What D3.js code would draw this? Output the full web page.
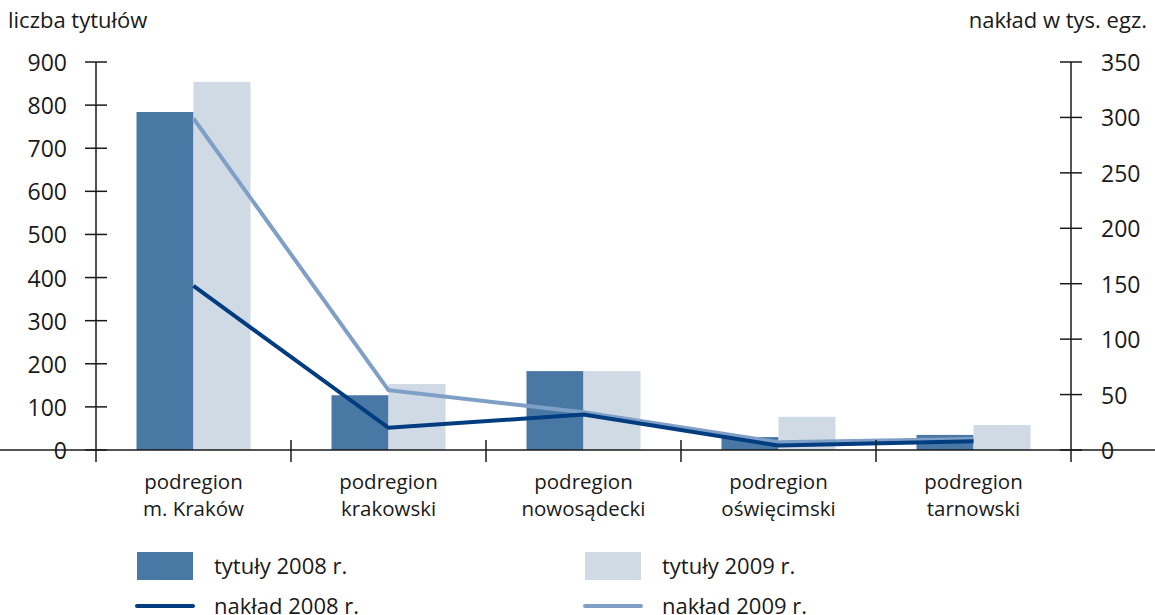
<!DOCTYPE html>
<html><head><meta charset="utf-8">
<script src="https://cdn.jsdelivr.net/npm/d3@7"></script>
<style>body{margin:0;background:#fff}svg{display:block}text{font-family:"Open Sans",sans-serif;fill:#1a1a1a}</style>
</head><body>
<svg id="c" width="1155" height="615"></svg>
<script>
const categories = ["podregion\nm. Kraków","podregion\nkrakowski","podregion\nnowosądecki","podregion\noświęcimski","podregion\ntarnowski"];
const titles2008 = [784,127,183,30,35];
const titles2009 = [854,153,183,77,58];
const print2008 = [148,20,32,4,8];
const print2009 = [299,54,34,7,10];
const leftTicks = [0,100,200,300,400,500,600,700,800,900];
const rightTicks = [0,50,100,150,200,250,300,350];

const svg = d3.select("#c");
const x0=96, x1=1071, yTop=62, yBot=450;
const x = d3.scaleBand().domain(categories).range([x0,x1]).paddingInner(0).paddingOuter(0);
const yL = d3.scaleLinear().domain([0,900]).range([yBot,yTop]);
const yR = d3.scaleLinear().domain([0,350]).range([yBot,yTop]);
const barW = 57;
const C = {d:"#4a78a5", l:"#cfdae5", dl:"#003d80", ll:"#7f9fc6"};

const g = svg.append("g");
categories.forEach((c,i)=>{
  const cx = x(c)+x.bandwidth()/2;
  g.append("rect").attr("x",cx-barW).attr("y",yL(titles2008[i])).attr("width",barW).attr("height",yBot-yL(titles2008[i])).attr("fill",C.d);
  g.append("rect").attr("x",cx).attr("y",yL(titles2009[i])).attr("width",barW).attr("height",yBot-yL(titles2009[i])).attr("fill",C.l);
});
const line = (arr)=>d3.line().x((d,i)=>x(categories[i])+x.bandwidth()/2).y(d=>yR(d))(arr);
g.append("path").attr("d",line(print2009)).attr("fill","none").attr("stroke",C.ll).attr("stroke-width",4);
g.append("path").attr("d",line(print2008)).attr("fill","none").attr("stroke",C.dl).attr("stroke-width",4);

// axes
const ax = svg.append("g").attr("stroke","#1a1a1a").attr("stroke-width",1.5);
ax.append("line").attr("x1",x0).attr("x2",x0).attr("y1",yTop).attr("y2",yBot+12);
ax.append("line").attr("x1",x1).attr("x2",x1).attr("y1",yTop).attr("y2",yBot+12);
ax.append("line").attr("x1",0).attr("x2",1155).attr("y1",yBot).attr("y2",yBot);
leftTicks.forEach(t=>{
  ax.append("line").attr("x1",x0-11).attr("x2",x0+11).attr("y1",yL(t)).attr("y2",yL(t));
  svg.append("text").attr("x",67).attr("y",yL(t)+9).attr("text-anchor","end").attr("font-size",23).text(t);
});
rightTicks.forEach(t=>{
  ax.append("line").attr("x1",x1-11).attr("x2",x1+11).attr("y1",yR(t)).attr("y2",yR(t));
  svg.append("text").attr("x",1101).attr("y",yR(t)+9).attr("text-anchor","start").attr("font-size",23).text(t);
});
categories.forEach((c,i)=>{
  if(i>0) ax.append("line").attr("x1",x(c)).attr("x2",x(c)).attr("y1",yBot-10).attr("y2",yBot+12);
  const cx = x(c)+x.bandwidth()/2;
  const parts=c.split("\n");
  parts.forEach((p,j)=>svg.append("text").attr("x",cx).attr("y",489+j*27).attr("text-anchor","middle").attr("font-size",20.5).text(p));
});
svg.append("text").attr("x",8).attr("y",28).attr("font-size",22).text("liczba tytułów");
svg.append("text").attr("x",1147).attr("y",28).attr("text-anchor","end").attr("font-size",22).text("nakład w tys. egz.");

// legend
const leg=[
 {t:"tytuły 2008 r.",type:"rect",c:C.d,x:137,y:566},
 {t:"tytuły 2009 r.",type:"rect",c:C.l,x:585,y:566},
 {t:"nakład 2008 r.",type:"line",c:C.dl,x:137,y:606},
 {t:"nakład 2009 r.",type:"line",c:C.ll,x:585,y:606}];
leg.forEach(l=>{
  if(l.type==="rect") svg.append("rect").attr("x",l.x).attr("y",l.y-14).attr("width",56).attr("height",28).attr("fill",l.c);
  else svg.append("line").attr("x1",l.x).attr("x2",l.x+56).attr("y1",l.y).attr("y2",l.y).attr("stroke",l.c).attr("stroke-width",4).attr("stroke-linecap","round");
  svg.append("text").attr("x",l.x+77).attr("y",l.y+8).attr("font-size",22).text(l.t);
});
</script>
</body></html>
